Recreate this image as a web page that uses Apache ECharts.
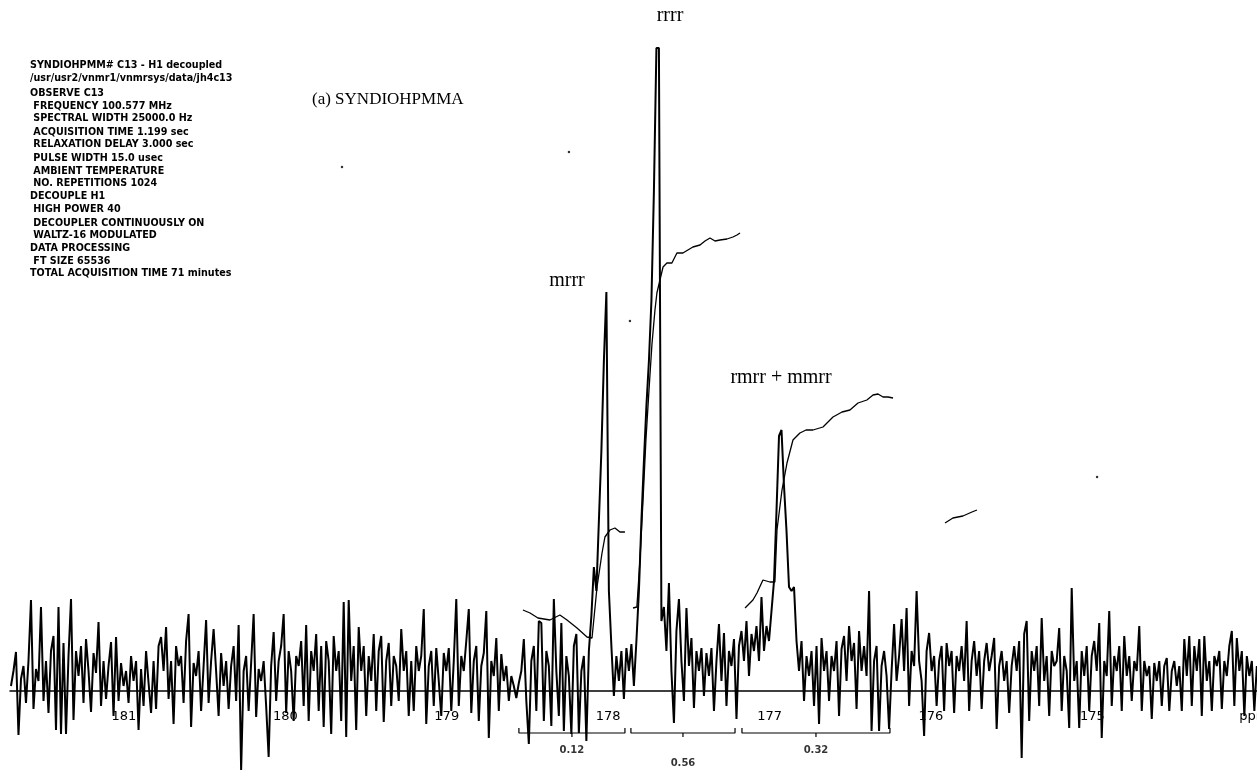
<!DOCTYPE html>
<html><head><meta charset="utf-8">
<script src="https://cdn.jsdelivr.net/npm/echarts@6/dist/echarts.min.js"></script>
<style>html,body{margin:0;padding:0;background:#fff}#c{width:1257px;height:770px}</style>
</head><body><div id="c"></div>
<script>
// ---- data ----
const startPpm = 181.70;      // first sampled point (ppm)
const ppmStep = 0.0155;       // sampling step (ppm)
const spectrum = [
5,20,39,-44,12,25,-12,30,91,-18,22,10,84,-10,30,-22,40,55,-39,84,
-43,48,-43,35,92,-29,40,15,45,-12,52,20,-21,38,18,69,-15,30,-8,25,
49,-25,54,-10,28,5,20,-12,35,10,30,-39,22,-15,40,8,-22,30,-18,45,
54,20,64,-8,30,-33,45,25,35,-12,50,77,-36,28,15,40,-20,25,71,-12,
30,62,20,-25,38,5,30,-18,25,45,-10,66,-79,20,35,-20,28,77,-26,22,
10,30,-15,-66,25,59,-10,30,45,77,-22,40,20,-30,35,25,50,-15,66,-30,
40,20,57,-20,45,-36,50,30,-43,55,20,40,-30,89,-46,91,10,45,-39,64,
20,45,-25,35,10,57,-20,40,55,-31,30,48,-15,35,25,-10,62,20,40,-25,
30,-20,45,20,35,82,-33,25,40,-15,43,10,-25,38,20,43,-20,30,92,-15,
35,20,50,82,-22,30,45,-30,25,38,80,-47,30,15,53,-20,37,10,25,-10,
15,5,-7,8,20,52,-10,-53,30,45,-20,70,68,-30,40,25,-35,92,20,-25,
68,-40,35,15,-43,45,57,-42,20,35,-50,40,75,124,100,170,240,330,399,100,
45,-5,35,10,40,-8,43,20,47,5,50,100,170,230,285,330,390,500,643,643,
70,84,40,108,20,-32,60,92,30,-10,83,25,53,-17,40,20,43,-5,38,15,
43,-20,30,67,10,58,-15,40,25,52,-28,45,60,30,70,15,57,40,65,30,
94,40,65,50,80,110,180,255,261,205,160,104,100,104,50,20,50,-10,35,15,
40,-15,45,-33,53,20,40,-10,35,20,50,-25,42,55,10,65,30,48,-18,60,
20,45,15,100,-40,30,45,-40,25,40,15,-38,20,67,10,35,72,20,83,-15,
40,25,100,30,10,-45,40,58,20,35,-15,30,45,-20,48,25,40,-22,35,20,
45,10,70,-20,30,50,15,40,-18,30,48,20,35,53,-38,25,40,10,30,-22,
25,45,20,50,-67,57,70,-30,40,20,45,-15,73,10,35,-25,40,25,30,63,
-20,35,20,-37,103,10,30,-37,40,15,45,-20,35,50,20,68,-47,30,15,80,
-15,35,20,45,-20,55,15,35,-10,30,20,65,-20,30,15,25,-28,28,10,30,
-15,25,33,-20,20,30,5,25,-20,52,15,55,-15,45,20,52,-25,55,10,30,
-20,35,25,40,-18,30,15,45,60,-15,53,20,40,-25,35,15,30,-20,25
];
const integral1 = [[178.528,81],[178.484,78],[178.435,73],[178.361,71],[178.299,76],[178.255,71],[178.193,63],[178.131,54],[178.100,53],[178.069,104],[178.038,138],[178.020,154],[177.989,161],[177.958,163],[177.927,159],[177.896,159]];
const integral2 = [[177.846,83],[177.822,84],[177.803,131],[177.784,191],[177.766,251],[177.747,301],[177.729,346],[177.710,381],[177.698,398],[177.679,411],[177.660,424],[177.636,428],[177.605,428],[177.574,438],[177.537,438],[177.506,441],[177.475,444],[177.431,446],[177.400,450],[177.369,453],[177.338,450],[177.307,451],[177.264,452],[177.227,454],[177.202,456],[177.183,458]];
const integral3 = [[177.152,83],[177.103,91],[177.078,98],[177.041,111],[176.998,109],[176.967,109],[176.954,161],[176.923,201],[176.892,228],[176.855,251],[176.812,258],[176.774,261],[176.731,261],[176.669,264],[176.607,274],[176.551,279],[176.502,281],[176.452,288],[176.397,291],[176.359,296],[176.328,297],[176.297,294],[176.266,294],[176.235,293]];
const integral4 = [[175.913,168],[175.864,173],[175.802,175],[175.746,179],[175.715,181]];
const dots = [[179.649,524],[178.243,539],[177.865,370],[174.971,214]];
const integralRegions = [[178.553,177.896],[177.859,177.214],[177.171,176.254]];
const integralLabels = ['0.12','0.56','0.32'];
const tickValues = [181,180,179,178,177,176,175,174];
const tickLabels = ['181','180','179','178','177','176','175','ppm'];
const peakLabels = ['rrrr','mrrr','rmrr + mmrr'];
const sampleTitle = '(a) SYNDIOHPMMA';
const paramLines = [
'SYNDIOHPMM# C13 - H1 decoupled',
'/usr/usr2/vnmr1/vnmrsys/data/jh4c13',
'OBSERVE C13',
' FREQUENCY 100.577 MHz',
' SPECTRAL WIDTH 25000.0 Hz',
' ACQUISITION TIME 1.199 sec',
' RELAXATION DELAY 3.000 sec',
' PULSE WIDTH 15.0 usec',
' AMBIENT TEMPERATURE',
' NO. REPETITIONS 1024',
'DECOUPLE H1',
' HIGH POWER 40',
' DECOUPLER CONTINUOUSLY ON',
' WALTZ-16 MODULATED',
'DATA PROCESSING',
' FT SIZE 65536',
'TOTAL ACQUISITION TIME 71 minutes'
];
// ---- build ----
const specData = spectrum.map((v,i)=>[startPpm - i*ppmStep, v]);
const specStyle = {color:'#000', width:2.0};
const intStyle = {color:'#000', width:1.3};
const bracketSeries = integralRegions.map(([a,b])=>{
  const m = (a+b)/2;
  return {type:'line', showSymbol:false, silent:true, clip:false, lineStyle:{color:'#000',width:1.2},
    data:[[a,-37],[a,-42],[m,-42],[m,-46],[m,-42],[b,-42],[b,-37]]};
});
const labelData = integralRegions.map(([a,b],k)=>[(a+b)/2, k===1 ? -72 : -59, integralLabels[k]]);
const lineYs = [65,78,93,106,118,132,144,158,171,183,196,209,223,235,248,261,273];
const paramGraphics = paramLines.map((t,k)=>({type:'text', style:{text:t, x:30, y:lineYs[k], textVerticalAlign:'middle', font:'bold 9.6px "DejaVu Sans"', fill:'#000'}}));
const chart = echarts.init(document.getElementById('c'), null, {renderer:'canvas'});
chart.setOption({
  animation:false,
  backgroundColor:'#fff',
  grid:{left:10,right:0,top:0,bottom:79, containLabel:false, outerBoundsMode:'none'},
  xAxis:{type:'value', inverse:true, min:173.98, max:181.706,
    axisLine:{show:true, onZero:false, lineStyle:{color:'#000', width:1.5}},
    axisTick:{show:false}, splitLine:{show:false},
    axisLabel:{customValues:tickValues, margin:19, color:'#000', fontFamily:'DejaVu Sans', fontSize:13,
      formatter:(v)=>{const k=tickValues.indexOf(v); return k>=0?tickLabels[k]:'';}}},
  yAxis:{type:'value', min:0, max:691, show:false, splitLine:{show:false}},
  series:[
    {type:'line', data:specData, showSymbol:false, lineStyle:specStyle, silent:true, clip:false},
    {type:'line', data:integral1, showSymbol:false, lineStyle:intStyle, silent:true, clip:false},
    {type:'line', data:integral2, showSymbol:false, lineStyle:intStyle, silent:true, clip:false},
    {type:'line', data:integral3, showSymbol:false, lineStyle:intStyle, silent:true, clip:false},
    {type:'line', data:integral4, showSymbol:false, lineStyle:intStyle, silent:true, clip:false},
    {type:'scatter', data:dots, symbolSize:2.5, itemStyle:{color:'#000'}, silent:true, clip:false},
    ...bracketSeries,
    {type:'scatter', data:labelData, symbolSize:0, silent:true, clip:false,
      label:{show:true, position:'inside', formatter:(p)=>p.data[2], color:'#000', fontFamily:'DejaVu Sans', fontSize:10, fontWeight:'bold'}}
  ],
  graphic:[
    ...paramGraphics,
    {type:'text', style:{text:sampleTitle, x:312, y:100, textVerticalAlign:'middle', font:'17px "Liberation Serif"', fill:'#000'}},
    {type:'text', style:{text:peakLabels[0], x:670, y:16, textAlign:'center', textVerticalAlign:'middle', font:'20px "Liberation Serif"', fill:'#000'}},
    {type:'text', style:{text:peakLabels[1], x:567, y:281, textAlign:'center', textVerticalAlign:'middle', font:'20px "Liberation Serif"', fill:'#000'}},
    {type:'text', style:{text:peakLabels[2], x:781, y:378, textAlign:'center', textVerticalAlign:'middle', font:'20px "Liberation Serif"', fill:'#000'}}
  ]
});
</script></body></html>
